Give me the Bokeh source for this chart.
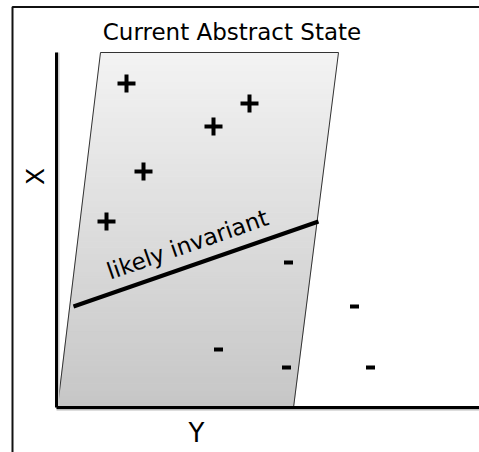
import math
from bokeh.plotting import figure
from bokeh.models import Range1d
from bokeh.embed import file_html
from bokeh.resources import INLINE
from bokeh.core.properties import value

# ---- data (diagram units: origin at the axes corner, vertical up) ----
plus_h = [70, 193, 157, 87, 50]
plus_v = [325, 305, 282, 237, 187]
minus_h = [232, 298, 162, 230, 314]
minus_v = [146, 102, 59, 41, 41]

# abstract state region (parallelogram): bottom-left, bottom-right, top-right, top-left
region_h = [1, 237, 282, 44]
region_v = [1, 1, 356, 356]

# likely invariant line
inv_h = [17, 262]
inv_v = [102, 187]

axis_top = 356
axis_right = 430

title_text = "Current Abstract State"
xlabel = "X"
ylabel = "Y"
inv_label = "likely invariant"

W, H = 479, 452
x0, y1 = -56, 408

p = figure(width=W, height=H, output_backend="svg", toolbar_location=None,
           x_range=Range1d(x0, x0 + W), y_range=Range1d(y1 - H, y1),
           min_border=0)
p.axis.visible = False
p.grid.visible = False
p.outline_line_color = None
p.background_fill_color = "white"
p.border_fill_color = "white"

# outer frame (top and left edges)
p.line([-44, -44, 430], [y1 - H - 5, 401.5, 401.5], line_color="#111111", line_width=2)

# gradient fill of the region via horizontal bands
blh, brh, trh, tlh = region_h
blv, brv, trv, tlv = region_v
N = 60
xs, ys, cols = [], [], []
c_bot, c_top = 198, 243
for i in range(N):
    va = blv + (tlv - blv) * i / N
    vb = blv + (tlv - blv) * (i + 1) / N
    la = blh + (tlh - blh) * (va - blv) / (tlv - blv)
    lb = blh + (tlh - blh) * (vb - blv) / (tlv - blv)
    ra = brh + (trh - brh) * (va - brv) / (trv - brv)
    rb = brh + (trh - brh) * (vb - brv) / (trv - brv)
    xs.append([la, ra, rb, lb])
    ys.append([va, va, vb, vb])
    g = int(round(c_bot + (c_top - c_bot) * (i + 0.5) / N))
    cols.append("#%02x%02x%02x" % (g, g, g))
p.patches(xs, ys, fill_color=cols, line_color=cols, line_width=1)
p.patch(region_h, region_v, fill_color=None, line_color="#333333", line_width=1)

# axes (with a soft shadow)
p.line([1.5, 1.5], [0, axis_top], line_color="#cccccc", line_width=3)
p.line([0, 0], [1, axis_top], line_color="black", line_width=3)
p.line([0, axis_right], [-1, -1], line_color="#bbbbbb", line_width=2)
p.line([0, axis_right], [1, 1], line_color="black", line_width=3)

# invariant line
p.line(inv_h, inv_v, line_color="black", line_width=4)

# points
p.scatter(plus_h, plus_v, marker="cross", size=18, line_width=4, line_color="black")
p.scatter(minus_h, minus_v, marker="dash", size=9, line_width=4, line_color="black")

font = value("DejaVu Sans")
ang = math.atan2(inv_v[1] - inv_v[0], inv_h[1] - inv_h[0])
p.text([175.5], [377], text=[title_text], text_font=font, text_font_size="23px",
       text_align="center", text_baseline="middle", text_color="black")
p.text([-21], [232], text=[xlabel], text_font=font, text_font_size="25px",
       text_align="center", text_baseline="middle", angle=math.pi / 2, text_color="black")
p.text([140], [-24.7], text=[ylabel], text_font=font, text_font_size="26px",
       text_align="center", text_baseline="middle", text_color="black")
p.text([131], [164], text=[inv_label], text_font=font, text_font_size="23px",
       text_align="center", text_baseline="middle", angle=ang, text_color="black")

open("out.html", "w").write(file_html(p, INLINE))
